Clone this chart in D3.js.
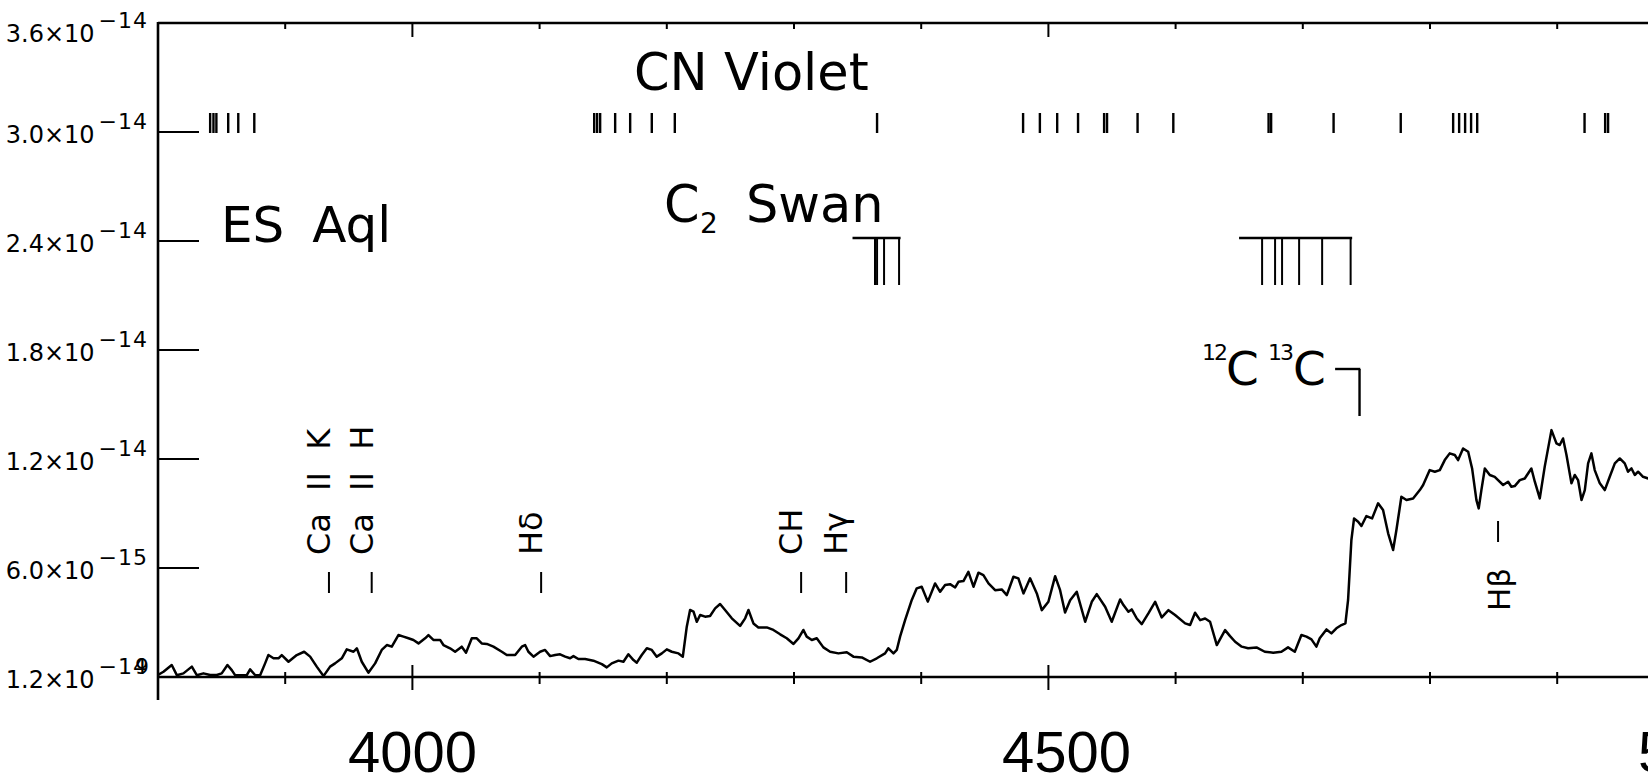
<!DOCTYPE html>
<html>
<head>
<meta charset="utf-8">
<script src="https://cdn.jsdelivr.net/npm/d3@7"></script>
<style>
  html, body { margin: 0; padding: 0; background: #fff; }
  svg { display: block; }
  text { font-family: "DejaVu Sans", sans-serif; fill: #000; }
</style>
</head>
<body>
<svg id="chart" width="1648" height="784"></svg>
<script>
// ---- Spectrum of ES Aql: wavelength (Angstrom) and flux (units of 1e-15 erg/s/cm2/A)
const wavelength = [
  3800, 3804.3, 3810.8, 3814.8, 3820.0, 3826.6, 3830.5, 3835.7, 3841.0, 3846.2, 3850.1, 3854.6, 3858.0, 3860.6,
  3869.8, 3872.4, 3876.3, 3880.3, 3884.2, 3886.8, 3890.8, 3894.7, 3897.3, 3902.6, 3909.1, 3914.9, 3919.6, 3924.8,
  3930.1, 3935.3, 3939.2, 3944.5, 3948.4, 3953.7, 3956.3, 3960.2, 3965.4, 3970.7, 3975.9, 3979.9, 3983.8, 3989.0,
  3993.0, 3996.9, 4000.8, 4004.8, 4010.0, 4012.6, 4016.5, 4021.8, 4024.4, 4029.6, 4033.6, 4038.8, 4042.2, 4046.7,
  4050.6, 4054.5, 4058.5, 4063.7, 4070.3, 4074.2, 4080.8, 4086.0, 4088.6, 4091.2, 4095.2,
  4100.4, 4104.3, 4108.3, 4112.2, 4116.1, 4120.1, 4124.0, 4126.6, 4130.5, 4135.8, 4142.3, 4148.9, 4152.8, 4156.7,
  4162.0, 4165.9, 4169.8, 4173.8, 4176.4, 4180.3, 4184.3, 4188.2, 4192.1, 4196.1, 4200.0, 4203.9, 4209.2, 4212.6,
  4215.7, 4218.3, 4221.0, 4223.6, 4226.2, 4230.1, 4234.0, 4238.0, 4241.9, 4245.8, 4251.1, 4257.6, 4261.6, 4264.2,
  4268.1, 4272.0, 4278.6, 4283.8, 4289.1, 4294.3, 4299.6, 4303.5, 4307.4, 4310.0, 4314.0, 4317.9, 4323.1, 4328.4,
  4334.9, 4341.5, 4346.7, 4353.3, 4359.8, 4365.1, 4371.6, 4374.2, 4378.2, 4380.8, 4383.4, 4387.4, 4392.6, 4396.5,
  4400.4, 4405.2,
  4410.9, 4414.9, 4418.8, 4422.7, 4426.7, 4429.3, 4433.2, 4437.1, 4441.1, 4445.0, 4448.9, 4452.9, 4458.1, 4463.3,
  4467.3, 4472.5, 4476.4, 4480.4, 4485.6, 4490.9, 4494.8, 4500.0, 4505.3, 4509.2, 4513.1, 4517.1, 4522.3, 4528.9,
  4534.1, 4538.0, 4544.6, 4549.8, 4556.4, 4559.0, 4562.9, 4565.5, 4569.5, 4573.4, 4578.6, 4583.9, 4589.1, 4594.4,
  4599.6, 4607.5, 4611.4, 4615.3, 4619.3, 4623.2, 4627.1, 4632.4, 4638.9, 4642.8, 4646.8, 4652.0,
  4657.0, 4663.6, 4670.1, 4676.7, 4683.2, 4688.4, 4693.7, 4698.9, 4702.9, 4706.8, 4710.7, 4713.3, 4718.6, 4722.5,
  4726.4, 4730.4, 4733.5, 4735.6, 4738.2, 4740.3, 4743.5, 4746.1, 4750.0, 4754.5, 4759.2, 4763.1, 4767.1, 4771.0,
  4773.6, 4777.5, 4781.5, 4786.7, 4792.0, 4794.6, 4799.8, 4803.8, 4807.7, 4811.6, 4815.5, 4819.5, 4822.1, 4826.0,
  4830.0, 4833.1, 4836.5, 4838.3, 4840.4, 4843.1, 4847.0, 4850.9, 4853.5, 4857.5, 4861.4, 4864.0, 4866.6, 4870.6,
  4874.5, 4879.7, 4882.4, 4886.3, 4890.2, 4895.5, 4899.4, 4902.0, 4904.6, 4907.3, 4911.2, 4913.8, 4916.4, 4919.1,
  4921.7, 4924.3, 4926.9, 4929.5, 4933.5, 4937.4, 4941.3, 4945.3, 4949.2, 4953.1, 4955.7, 4958.4, 4961.0, 4963.6,
  4967.5, 4971.5, 4976.0
];
const fluxE15 = [
  0.12, 0.29, 0.66, 0.10, 0.20, 0.57, 0.10, 0.20, 0.11, 0.11, 0.20, 0.66, 0.38, 0.10,
  0.10, 0.42, 0.11, 0.10, 0.75, 1.21, 1.03, 1.03, 1.21, 0.84, 1.21, 1.39, 1.12, 0.57,
  0.05, 0.57, 0.75, 1.03, 1.52, 1.39, 1.58, 0.84, 0.24, 0.75, 1.49, 1.76, 1.67, 2.31,
  2.22, 2.13, 2.04, 1.85, 2.13, 2.31, 2.04, 2.04, 1.76, 1.58, 1.39, 1.67, 1.34, 2.13,
  2.13, 1.85, 1.82, 1.67, 1.39, 1.21, 1.21, 1.67, 1.76, 1.39, 1.12,
  1.39, 1.49, 1.15, 1.21, 1.25, 1.12, 1.03, 1.15, 0.99, 0.99, 0.90, 0.71, 0.53, 0.75,
  0.90, 0.84, 1.25, 0.93, 0.79, 1.21, 1.58, 1.49, 1.12, 1.30, 1.52, 1.39, 1.30, 1.12,
  2.77, 3.69, 3.60, 3.04, 3.41, 3.32, 3.36, 3.78, 4.02, 3.69, 3.23, 2.81, 3.23, 3.69,
  2.95, 2.73, 2.73, 2.59, 2.35, 2.13, 1.82, 2.13, 2.59, 2.22, 2.04, 2.13, 1.63, 1.39,
  1.30, 1.36, 1.12, 1.08, 0.84, 1.03, 1.30, 1.58, 1.30, 1.49, 2.22, 3.14, 4.24, 4.88,
  4.97, 4.15,
  5.15, 4.69, 5.06, 5.11, 4.93, 5.24, 5.28, 5.79, 4.97, 5.74, 5.61, 5.15, 4.78, 4.82,
  4.51, 5.52, 5.43, 4.60, 5.43, 4.60, 3.68, 4.14, 5.55, 4.78, 3.55, 4.23, 4.69, 3.04,
  4.14, 4.56, 3.87, 3.04, 4.27, 3.96, 3.59, 3.72, 3.22, 2.91, 3.50, 4.14, 3.28, 3.68,
  3.41, 2.95, 2.86, 3.54, 3.13, 3.22, 3.04, 1.76, 2.58, 2.25, 1.94, 1.67,
  1.58, 1.63, 1.39, 1.34, 1.39, 1.63, 1.39, 2.31, 2.22, 2.07, 1.67, 2.13, 2.62, 2.40,
  2.68, 2.86, 2.95, 4.24, 7.54, 8.73, 8.55, 8.31, 8.86, 8.73, 9.56, 9.19, 7.91, 6.99,
  8.09, 9.92, 9.74, 9.83, 10.29, 10.57, 11.39, 11.30, 11.39, 11.94, 12.31, 12.22, 11.94, 12.58,
  12.40, 11.48, 9.74, 9.28, 10.29, 11.48, 11.12, 11.02, 10.84, 10.57, 10.75, 10.47, 10.51, 10.84,
  10.93, 11.48, 10.75, 9.83, 11.58, 13.59, 12.86, 12.77, 13.13, 12.22, 10.66, 11.12, 10.84, 9.74,
  10.29, 11.76, 12.31, 11.39, 10.66, 10.29, 11.02, 11.76, 12.03, 11.76, 11.30, 11.48, 11.12, 11.30,
  11.02, 10.93, 11.00
];

// ---- Band heads and line identifications (Angstrom)
const cnVioletHeads = [
  3841.0, 3843.6, 3845.9, 3855.2, 3863.1, 3875.7,
  4142.9, 4145.2, 4147.6, 4159.4, 4171.2, 4188.2, 4206.3,
  4365.3,
  4480.1, 4493.3, 4506.9, 4523.3, 4543.8, 4546.1, 4570.1, 4598.2,
  4673.1, 4675.1, 4724.2, 4777.0,
  4818.2, 4822.9, 4827.6, 4832.3, 4837.1,
  4921.5, 4937.7, 4940.0
];
const c2SwanBlueHeads = [4363.7, 4365.3, 4370.8, 4382.6];
const c2SwanBlueBar = [4346.0, 4383.8];
const c2SwanGreenHeads = [4668.0, 4678.2, 4683.7, 4697.1, 4715.2, 4737.6];
const c2SwanGreenBar = [4649.9, 4738.8];
const isotopeHead = 4744.6;
const isotopeBar = [4725.4, 4745.2];

const lineNames = ["Ca II K", "Ca II H", "H\u03B4", "CH", "H\u03B3", "H\u03B2"];
const lineWavelengths = [3934.4, 3968.0, 4101.2, 4305.6, 4341.0, 4853.5];
const lineSides = ["above", "above", "above", "above", "above", "below"];

// ---- Axis ticks
const yTickValues = [0, 6, 12, 18, 24, 30, 36];           // units of 1e-15
const yTickMantissas = ["1.2", "6.0", "1.2", "1.8", "2.4", "3.0", "3.6"];
const yTickExponents = ["\u221214", "\u221215", "\u221214", "\u221214", "\u221214", "\u221214", "\u221214"];
const yZeroOverprint = "9";   // the origin label carries a second digit printed over its last one
const xMajorTicks = [4000, 4500, 5000];
const xMinorTicks = d3.range(3800, 5101, 100);
const xTickLabels = ["4000", "4500", "5000"];
const xTickLabelShift = [0, 18, 18];

// ---- Layout
const W = 1648, H = 784;
const svg = d3.select("#chart");

const x = d3.scaleLinear().domain([3800, 5100]).range([158, 158 + 1300 * 1.272]);
const y = d3.scaleLinear().domain([0, 36]).range([677, 23]);
const x0 = x(3800), yTop = y(36), yBot = y(0);

svg.append("rect").attr("width", W).attr("height", H).attr("fill", "#fff");

svg.append("clipPath").attr("id", "plot-clip")
  .append("rect").attr("x", x0).attr("y", yTop).attr("width", W - x0).attr("height", yBot - yTop + 2);

// ---- Spectrum
const spectrum = wavelength.map((w, i) => [w, fluxE15[i]]);
svg.append("path")
  .datum(spectrum)
  .attr("clip-path", "url(#plot-clip)")
  .attr("fill", "none")
  .attr("stroke", "#000")
  .attr("stroke-width", 2.5)
  .attr("stroke-linejoin", "round")
  .attr("d", d3.line().x(d => x(d[0])).y(d => y(d[1])));

// ---- Frame
const axisG = svg.append("g").attr("stroke", "#000");
axisG.append("line").attr("x1", x0).attr("x2", W).attr("y1", yTop).attr("y2", yTop).attr("stroke-width", 2.6);
axisG.append("line").attr("x1", x0).attr("x2", W).attr("y1", yBot).attr("y2", yBot).attr("stroke-width", 2.6);
axisG.append("line").attr("x1", x0).attr("x2", x0).attr("y1", yTop - 1).attr("y2", 700).attr("stroke-width", 2.6);

// x ticks: top axis ticks point down, bottom axis ticks cross the line
const isMajor = v => xMajorTicks.includes(v);
axisG.selectAll(".xt-top").data(xMinorTicks.filter(v => x(v) > x0 + 2)).join("line")
  .attr("x1", d => x(d)).attr("x2", d => x(d))
  .attr("y1", yTop).attr("y2", d => yTop + (isMajor(d) ? 14 : 6))
  .attr("stroke-width", 2);
axisG.selectAll(".xt-bot").data(xMinorTicks.filter(v => x(v) > x0 + 2)).join("line")
  .attr("x1", d => x(d)).attr("x2", d => x(d))
  .attr("y1", d => yBot - (isMajor(d) ? 12 : 5)).attr("y2", d => yBot + (isMajor(d) ? 13 : 7))
  .attr("stroke-width", 2);

// y ticks
axisG.selectAll(".yt").data(yTickValues.filter(v => v > 0 && v < 36)).join("line")
  .attr("x1", x0).attr("x2", x0 + 41)
  .attr("y1", d => y(d)).attr("y2", d => y(d))
  .attr("stroke-width", 2.2);

// y tick labels: mantissa x 10 with superscript exponent
yTickValues.forEach((v, i) => {
  const ty = Math.max(y(v), 31);
  const t = svg.append("text")
    .attr("x", 148).attr("y", ty + 11)
    .attr("text-anchor", "end")
    .attr("font-size", 24);
  t.append("tspan").text(yTickMantissas[i] + "\u00D710");
  t.append("tspan").attr("font-size", 22).attr("dx", 4).attr("dy", -14)
    .attr("letter-spacing", 1).text(yTickExponents[i]);
  if (v === 0) {
    svg.append("text")
      .attr("x", 149).attr("y", ty - 3)
      .attr("text-anchor", "end")
      .attr("font-size", 22)
      .text(yZeroOverprint);
  }
});

// x tick labels
svg.selectAll(".xl").data(xMajorTicks).join("text")
  .attr("x", (d, i) => x(d) + xTickLabelShift[i])
  .attr("y", 772)
  .attr("text-anchor", "middle")
  .style("font-family", "'Liberation Sans', Arial, sans-serif")
  .attr("font-size", 58)
  .text((d, i) => xTickLabels[i]);

// ---- CN violet band heads
svg.append("g").attr("stroke", "#000").attr("stroke-width", 2.4)
  .selectAll("line").data(cnVioletHeads).join("line")
  .attr("x1", d => x(d)).attr("x2", d => x(d))
  .attr("y1", 113).attr("y2", 133);

svg.append("text").attr("x", 634).attr("y", 90).attr("font-size", 51).text("CN Violet");

// ---- C2 Swan brackets
const swanG = svg.append("g").attr("stroke", "#000").attr("stroke-width", 2);
[[c2SwanBlueBar, c2SwanBlueHeads], [c2SwanGreenBar, c2SwanGreenHeads]].forEach(([bar, heads]) => {
  swanG.append("line").attr("x1", x(bar[0])).attr("x2", x(bar[1])).attr("y1", 238).attr("y2", 238).attr("stroke-width", 2.6);
  swanG.selectAll(null).data(heads).join("line")
    .attr("x1", d => x(d)).attr("x2", d => x(d))
    .attr("y1", 238).attr("y2", 285);
});
svg.append("text").attr("x", 664).attr("y", 222).attr("font-size", 51).text("C");
svg.append("text").attr("x", 700).attr("y", 233).attr("font-size", 28).text("2");
svg.append("text").attr("x", 746).attr("y", 222).attr("font-size", 51).text("Swan");

// ---- 12C13C isotopic head
const isoG = svg.append("g").attr("stroke", "#000").attr("stroke-width", 2.4);
isoG.append("line").attr("x1", x(isotopeBar[0])).attr("x2", x(isotopeBar[1])).attr("y1", 369).attr("y2", 369);
isoG.append("line").attr("x1", x(isotopeHead)).attr("x2", x(isotopeHead)).attr("y1", 369).attr("y2", 416);
svg.append("text").attr("x", 1202).attr("y", 360).attr("font-size", 22).attr("letter-spacing", -2).text("12");
svg.append("text").attr("x", 1226).attr("y", 385).attr("font-size", 47).text("C");
svg.append("text").attr("x", 1268).attr("y", 360).attr("font-size", 22).attr("letter-spacing", -2).text("13");
svg.append("text").attr("x", 1293).attr("y", 385).attr("font-size", 47).text("C");

// ---- Star name
svg.append("text").attr("x", 221).attr("y", 242).attr("font-size", 50).attr("word-spacing", 12).text("ES Aql");

// ---- Line identifications (vertical labels with a short marker)
const idG = svg.append("g");
lineNames.forEach((name, i) => {
  const lx = x(lineWavelengths[i]);
  if (lineSides[i] === "above") {
    idG.append("line").attr("x1", lx).attr("x2", lx).attr("y1", 572).attr("y2", 593)
      .attr("stroke", "#000").attr("stroke-width", 2);
    idG.append("text")
      .attr("transform", `translate(${lx + 1},555) rotate(-90)`)
      .attr("font-size", 32).attr("word-spacing", 12)
      .text(name);
  } else {
    idG.append("line").attr("x1", lx).attr("x2", lx).attr("y1", 521).attr("y2", 542)
      .attr("stroke", "#000").attr("stroke-width", 2);
    idG.append("text")
      .attr("transform", `translate(${lx + 12},611) rotate(-90)`)
      .attr("font-size", 31)
      .text(name);
  }
});
</script>
</body>
</html>
